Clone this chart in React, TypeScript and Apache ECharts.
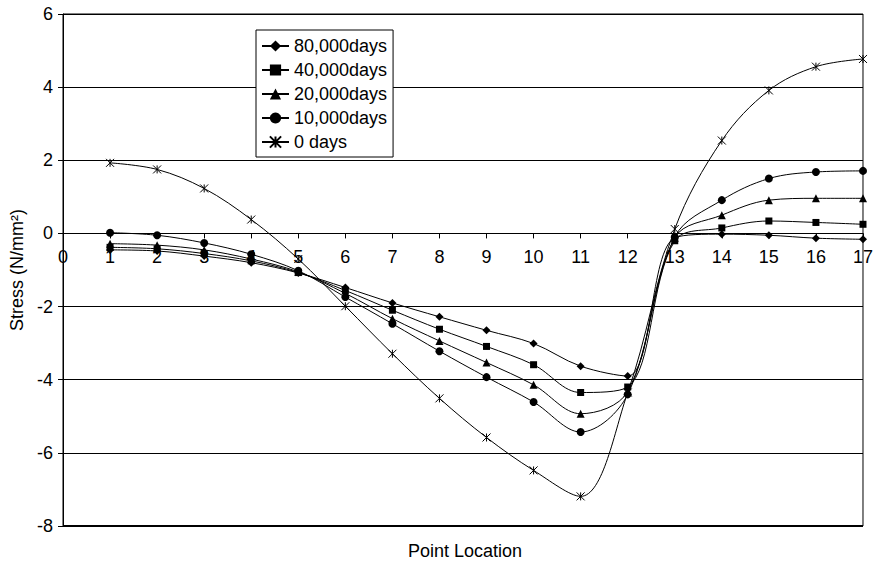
import React, { useEffect, useRef } from "react";
import * as echarts from "echarts";

const xPoints = [1, 2, 3, 4, 5, 6, 7, 8, 9, 10, 11, 12, 13, 14, 15, 16, 17];
const seriesNames = ["80,000days", "40,000days", "20,000days", "10,000days", "0 days"];
const days80000 = [-0.45, -0.48, -0.62, -0.8, -1.08, -1.48, -1.9, -2.28, -2.65, -3.01, -3.63, -3.9, -0.12, -0.02, -0.05, -0.13, -0.16];
const days40000 = [-0.38, -0.42, -0.55, -0.75, -1.07, -1.56, -2.1, -2.62, -3.09, -3.59, -4.35, -4.2, -0.2, 0.15, 0.34, 0.3, 0.25];
const days20000 = [-0.28, -0.32, -0.45, -0.7, -1.05, -1.64, -2.33, -2.94, -3.53, -4.14, -4.93, -4.32, -0.12, 0.5, 0.91, 0.96, 0.96];
const days10000 = [0.02, -0.05, -0.26, -0.57, -1.02, -1.74, -2.47, -3.22, -3.93, -4.61, -5.43, -4.4, -0.1, 0.91, 1.5, 1.68, 1.71];
const days0 = [1.93, 1.75, 1.23, 0.38, -0.7, -1.99, -3.29, -4.51, -5.58, -6.48, -7.19, -4.35, 0.12, 2.54, 3.91, 4.56, 4.77];
const yMin = -8;
const yMax = 6;
const yStep = 2;
const xMin = 0;
const xMax = 17;

const FONT = "'Liberation Sans', Arial, sans-serif";
const STAR = "path://M0,0L10,10M10,0L0,10M5,0L5,10";

const W = 876;
const H = 562;
const GRID = { left: 63, right: 9, top: 14, bottom: 36 };

export default function App() {
  const ref = useRef<HTMLDivElement>(null);
  useEffect(() => {
    if (!ref.current) return;
    const chart = echarts.init(ref.current, null, { renderer: "svg" });
    const allData = [days80000, days40000, days20000, days10000, days0];
    const symbols = ["diamond", "rect", "triangle", "circle", STAR];
    const sizes = [8, 7, 8, 8, 8];
    const series: any[] = allData.map((d, i) => ({
      name: seriesNames[i],
      type: "line",
      smooth: 0.35,
      data: d.map((v, j) => [xPoints[j], v]),
      symbol: symbols[i],
      symbolSize: sizes[i],
      showSymbol: true,
      lineStyle: { color: "#000", width: 1 },
      itemStyle:
        i === 4
          ? { color: "none", borderColor: "#000", borderWidth: 1 }
          : { color: "#000", borderWidth: 0 },
      emphasis: { disabled: true },
      z: 3,
    }));
    series[0].markLine = {
      silent: true,
      symbol: "none",
      label: { show: false },
      lineStyle: { color: "#000", width: 2, type: "solid" },
      data: [{ yAxis: yMin }],
    };
    // place the x axis on the zero line (distance from grid bottom to y = 0)
    const plotH = H - GRID.top - GRID.bottom;
    const zeroOffset = -(plotH * (0 - yMin)) / (yMax - yMin);
    chart.setOption({
      animation: false,
      textStyle: { fontFamily: FONT, color: "#000" },
      grid: {
        ...GRID,
        show: true,
        borderColor: "#000",
        borderWidth: 1,
      },
      legend: {
        orient: "vertical",
        left: 256,
        top: 30,
        padding: [7, 6, 6, 5],
        itemGap: 6,
        itemWidth: 27,
        itemHeight: 14,
        backgroundColor: "#fff",
        borderColor: "#000",
        borderWidth: 1,
        borderRadius: 0,
        textStyle: { fontFamily: FONT, fontSize: 18, color: "#000" },
        data: seriesNames,
      },
      xAxis: {
        type: "value",
        min: xMin,
        max: xMax,
        interval: 1,
        position: "bottom",
        offset: zeroOffset,
        axisLine: { onZero: false, lineStyle: { color: "#000", width: 1 } },
        axisTick: { show: true, length: 5, lineStyle: { color: "#000" } },
        axisLabel: { fontFamily: FONT, fontSize: 18, color: "#000", margin: 15, showMinLabel: true, showMaxLabel: true },
        splitLine: { show: false },
      },
      yAxis: {
        type: "value",
        min: yMin,
        max: yMax,
        interval: yStep,
        name: "Stress (N/mm²)",
        nameLocation: "middle",
        nameGap: 29,
        nameTextStyle: { fontFamily: FONT, fontSize: 18, color: "#000" },
        axisLine: { show: true, onZero: false, lineStyle: { color: "#000", width: 1 } },
        axisTick: { show: true, length: 5, lineStyle: { color: "#000" } },
        axisLabel: { fontFamily: FONT, fontSize: 18, color: "#000", margin: 10 },
        splitLine: { show: true, lineStyle: { color: "#000", width: 1 } },
      },
      graphic: [
        {
          type: "text",
          x: 465,
          y: 551,
          style: {
            text: "Point Location",
            font: `18px ${FONT}`,
            fill: "#000",
            textAlign: "center",
            textVerticalAlign: "middle",
          },
        },
      ],
      series,
    });
    return () => chart.dispose();
  }, []);
  return (
    <div
      ref={ref}
      style={{ position: "absolute", left: 0, top: 0, width: W, height: H }}
    />
  );
}
